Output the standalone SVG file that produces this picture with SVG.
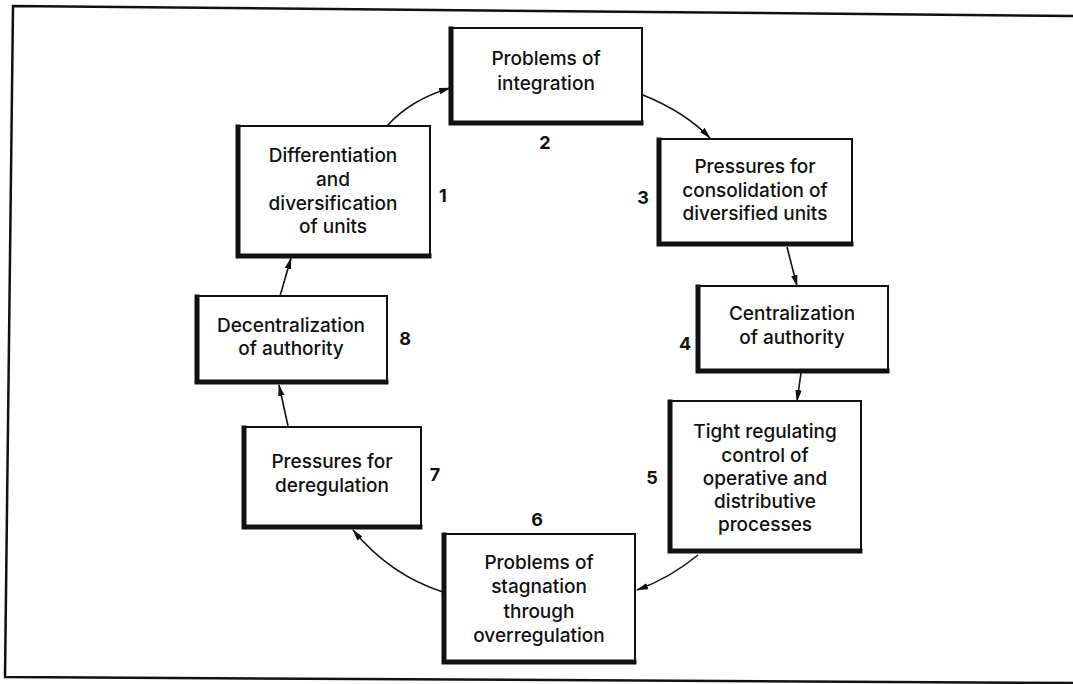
<svg xmlns="http://www.w3.org/2000/svg" width="1073" height="684" viewBox="0 0 1073 684">
<defs>
<marker id="ah" markerWidth="12" markerHeight="8" refX="11" refY="4" orient="auto" markerUnits="userSpaceOnUse">
<path d="M0,0.8 L12,4 L0,7.2 Z" fill="#111"/>
</marker>
<style>
.box{fill:#fff;stroke:#111;stroke-width:2}
.sh{fill:none;stroke:#111;stroke-width:5;stroke-linecap:square}
.t{font-family:Inter,"Open Sans",sans-serif;font-size:19px;font-weight:500;fill:#111;text-anchor:middle}
.n{font-family:Inter,"Open Sans",sans-serif;font-size:18px;font-weight:bold;fill:#111;text-anchor:middle}
.c{fill:none;stroke:#111;stroke-width:1.6;marker-end:url(#ah)}
.fr{fill:none;stroke:#111;stroke-width:2.5}
</style>
</defs>
<rect width="1073" height="684" fill="#fff"/>
<path class="fr" d="M1073,16 L13,6 L5,677 L1073,683"/>
<g id="connectors">
<path class="c" d="M387,126 Q410,100 450,88"/>
<path class="c" d="M643,95 Q685,112 710,138"/>
<path class="c" d="M787,247 L797,286"/>
<path class="c" d="M801,373 L797,401"/>
<path class="c" d="M698,555 Q670,578 637,590"/>
<path class="c" d="M443,592 Q390,575 353,530"/>
<path class="c" d="M288,426 L279,385"/>
<path class="c" d="M280,296 L291,258"/>
</g>
<g id="n1">
<rect class="box" x="237" y="126" width="193" height="131"/>
<path class="sh" d="M238,127 V256 H429"/>
<text class="t" x="333" y="162">Differentiation</text>
<text class="t" x="333" y="186">and</text>
<text class="t" x="333" y="210">diversification</text>
<text class="t" x="333" y="233">of units</text>
<text class="n" x="443" y="202">1</text>
</g>
<g id="n2">
<rect class="box" x="450" y="28" width="192" height="96"/>
<path class="sh" d="M451,29 V123 H641"/>
<text class="t" x="546" y="65">Problems of</text>
<text class="t" x="546" y="90">integration</text>
<text class="n" x="545" y="149">2</text>
</g>
<g id="n3">
<rect class="box" x="658" y="139" width="194" height="106"/>
<path class="sh" d="M659,140 V244 H851"/>
<text class="t" x="755" y="173">Pressures for</text>
<text class="t" x="755" y="197">consolidation of</text>
<text class="t" x="755" y="220">diversified units</text>
<text class="n" x="643" y="204">3</text>
</g>
<g id="n4">
<rect class="box" x="697" y="286" width="191" height="86"/>
<path class="sh" d="M698,287 V371 H887"/>
<text class="t" x="792" y="320">Centralization</text>
<text class="t" x="792" y="344">of authority</text>
<text class="n" x="685" y="350">4</text>
</g>
<g id="n5">
<rect class="box" x="669" y="401" width="192" height="151"/>
<path class="sh" d="M670,402 V551 H860"/>
<text class="t" x="765" y="438">Tight regulating</text>
<text class="t" x="765" y="462">control of</text>
<text class="t" x="765" y="485">operative and</text>
<text class="t" x="765" y="508">distributive</text>
<text class="t" x="765" y="531">processes</text>
<text class="n" x="652" y="484">5</text>
</g>
<g id="n6">
<rect class="box" x="443" y="534" width="192" height="129"/>
<path class="sh" d="M444,535 V662 H634"/>
<text class="t" x="539" y="569">Problems of</text>
<text class="t" x="539" y="593">stagnation</text>
<text class="t" x="539" y="618">through</text>
<text class="t" x="539" y="642">overregulation</text>
<text class="n" x="537" y="526">6</text>
</g>
<g id="n7">
<rect class="box" x="243" y="427" width="178" height="101"/>
<path class="sh" d="M244,428 V527 H420"/>
<text class="t" x="332" y="468">Pressures for</text>
<text class="t" x="332" y="492">deregulation</text>
<text class="n" x="435" y="481">7</text>
</g>
<g id="n8">
<rect class="box" x="196" y="296" width="191" height="87"/>
<path class="sh" d="M197,297 V382 H386"/>
<text class="t" x="291" y="332">Decentralization</text>
<text class="t" x="291" y="355">of authority</text>
<text class="n" x="405" y="345">8</text>
</g>
</svg>
